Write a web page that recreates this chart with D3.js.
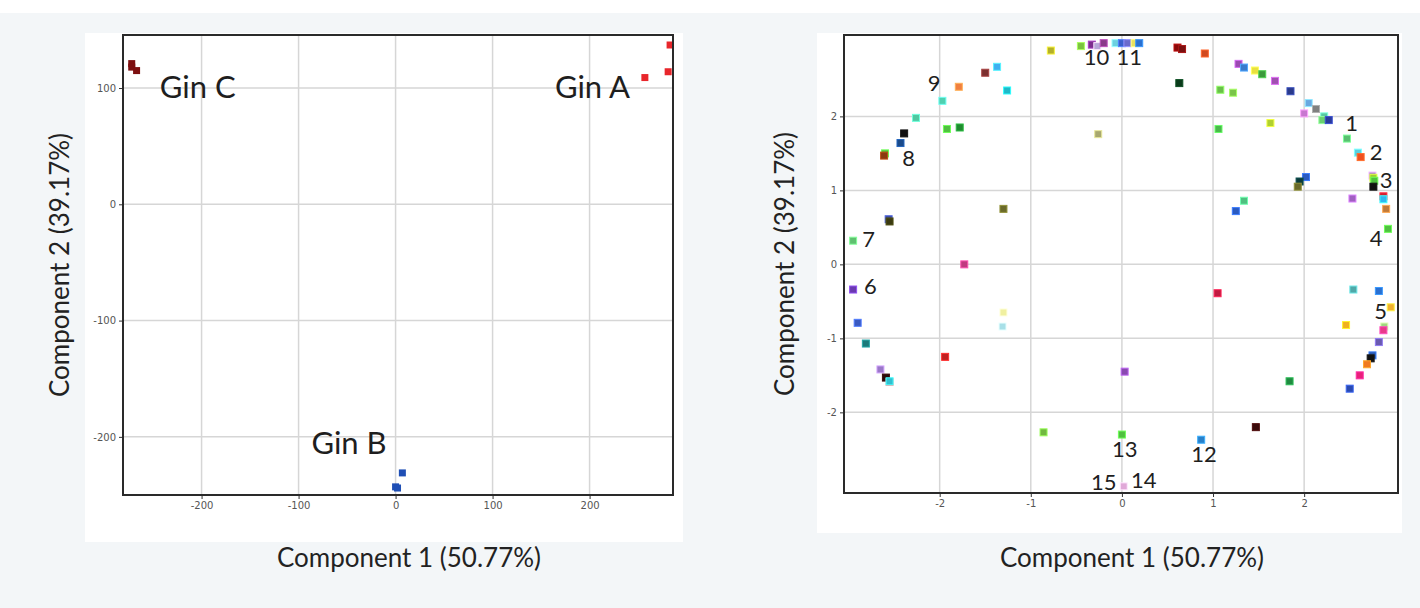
<!DOCTYPE html>
<html>
<head>
<meta charset="utf-8">
<script src="https://cdn.jsdelivr.net/npm/d3@7"></script>
<style>
  body { margin: 0; background: #f3f6f8; }
  svg { display: block; }
  .tick text { font-family: "DejaVu Sans", sans-serif; font-size: 10px; fill: #555; }
  .title { font-family: Lato, sans-serif; font-size: 26px; fill: #222; }
</style>
</head>
<body>
<svg id="chart"></svg>
<script>
const width = 1420;
const height = 608;

// left plot : scores
const ginGroups = ["Gin A", "Gin B", "Gin C"];
const ginX = [[283, 281, 257], [7, 0, 2], [-272, -272, -267]];
const ginY = [[137, 114, 109], [-231, -243, -244], [121, 118, 115]];
const ginColors = ["#e8262b", "#1f4fb5", "#7d0f10"];
const ginLabelX = [203, -48, -204];
const ginLabelY = [101, -205, 101];
const scoreTicksX = [-200, -100, 0, 100, 200];
const scoreTicksY = [-200, -100, 0, 100];

// right plot : loadings
const loadX = [-0.78, -0.45, -0.33, -0.27, -0.20, -0.07, 0.00, 0.06, 0.14, 0.19,
  0.61, 0.66, 0.91, 1.28, 1.34, 1.46, 1.54, 1.68, 1.85, 2.05, 2.13, 2.22, 2.20, 2.27, 2.00,
  0.63, 1.08, 1.22, 1.06, 1.63, -0.26, 2.47, 2.59, 2.62, 2.75, 2.76, 2.77, 2.76,
  2.02, 1.95, 1.93, 2.53, 2.87, 2.87, 2.90, 2.92, 1.34, 1.25,
  -1.37, -1.50, -1.26, -1.79, -1.97, -2.26, -1.92, -1.78, -2.39, -2.43, -2.60, -2.61,
  -2.56, -2.55, -2.95, -1.30, -1.73, -2.95, -2.90, -2.81, -2.65, -2.59, -2.55, -2.55,
  -1.30, -1.31, -1.94, -0.86, 0.00, 0.03, 0.02, 0.87, 1.47, 1.05, 1.84,
  2.54, 2.82, 2.95, 2.46, 2.88, 2.87, 2.82, 2.75, 2.73, 2.69, 2.61, 2.50];
const loadY = [2.89, 2.95, 2.97, 2.95, 2.99, 2.99, 2.99, 2.99, 2.99, 2.99,
  2.93, 2.91, 2.85, 2.71, 2.66, 2.62, 2.57, 2.48, 2.34, 2.18, 2.10, 2.00, 1.95, 1.95, 2.04,
  2.45, 2.36, 2.32, 1.83, 1.91, 1.76, 1.70, 1.51, 1.45, 1.20, 1.17, 1.13, 1.05,
  1.18, 1.12, 1.05, 0.89, 0.92, 0.88, 0.75, 0.48, 0.86, 0.72,
  2.67, 2.59, 2.35, 2.40, 2.21, 1.98, 1.83, 1.85, 1.77, 1.64, 1.50, 1.47,
  0.61, 0.58, 0.32, 0.75, 0.00, -0.34, -0.79, -1.07, -1.42, -1.53, -1.59, -1.58,
  -0.65, -0.84, -1.25, -2.27, -2.30, -1.45, -3.00, -2.37, -2.20, -0.39, -1.58,
  -0.34, -0.36, -0.58, -0.82, -0.84, -0.89, -1.05, -1.23, -1.27, -1.35, -1.50, -1.68];
const loadColors = ["#b3b02a", "#7cc242", "#7b2d8e", "#b7a6d8", "#8a3a8a", "#6cd0e0", "#3a5fcc", "#6a6acc", "#e8e060", "#2a70d0",
  "#8b0a0a", "#7a1010", "#d04a20", "#9a4ab0", "#3a7acc", "#e8e040", "#3a9a3a", "#a050b0", "#2a3a8a", "#6aa8e0", "#808080", "#5ac8a0", "#6ad070", "#2a3a9a", "#c878d0",
  "#0a3a1a", "#6abf4a", "#7ac44a", "#4ab84a", "#b0d030", "#a8a870", "#5ac070", "#5ad0e0", "#f05020", "#b088d0", "#a0d030", "#50c040", "#111111",
  "#2a5ac0", "#0a3a3a", "#6a6a2a", "#a060c0", "#d02030", "#30b8f0", "#c07a3a", "#50c040", "#50c080", "#2a5ac0",
  "#40b0f0", "#7a3030", "#20b8c8", "#f08040", "#50d0b0", "#50c8a0", "#50c040", "#208a30", "#111111", "#1a4a8a", "#50c040", "#8a3a10",
  "#3a4aa0", "#3a3a10", "#60c070", "#6a6a2a", "#c03a80", "#6a3ab0", "#3a5ac0", "#1a7a7a", "#9a78c8", "#2a0a0a", "#e07a7a", "#30c0d0",
  "#f0f0a0", "#a8e0e8", "#c02020", "#70b840", "#50c040", "#8a4ab0", "#e0a8d8", "#2a80c8", "#3a0a0a", "#c01a40", "#208a40",
  "#50a8a8", "#2a70d0", "#f0b030", "#f0b020", "#a0d880", "#e83a8a", "#6a5ab0", "#2a5ab0", "#111111", "#f07a20", "#e8207a", "#2a4ab0"];
const compoundIds = ["1", "2", "3", "4", "5", "6", "7", "8", "9", "10", "11", "12", "13", "14", "15"];
const compoundLabelX = [2.52, 2.79, 2.90, 2.79, 2.84, -2.76, -2.78, -2.34, -2.06, -0.28, 0.08, 0.90, 0.03, 0.24, -0.20];
const compoundLabelY = [1.91, 1.52, 1.13, 0.35, -0.64, -0.29, 0.34, 1.44, 2.45, 2.80, 2.80, -2.57, -2.50, -2.92, -2.94];
const loadTicks = [-2, -1, 0, 1, 2];

const svg = d3.select("#chart").attr("width", width).attr("height", height);

// fond
svg.append("rect").attr("width", width).attr("height", 13).attr("fill", "#fff");
svg.append("rect").attr("x", 85).attr("y", 33).attr("width", 598).attr("height", 509).attr("fill", "#fff");
svg.append("rect").attr("x", 817).attr("y", 33).attr("width", 585).attr("height", 500).attr("fill", "#fff");

function drawPanel(p) {
  const x = d3.scaleLinear().domain(p.xDomain).range([p.left, p.right]);
  const y = d3.scaleLinear().domain(p.yDomain).range([p.bottom, p.top]);
  const g = svg.append("g");

  // grille
  g.selectAll(".gx").data(p.xTicks).enter().append("line")
    .attr("x1", d => x(d)).attr("x2", d => x(d))
    .attr("y1", p.top).attr("y2", p.bottom)
    .attr("stroke", "#d6d6d6").attr("stroke-width", 1.5);
  g.selectAll(".gy").data(p.yTicks).enter().append("line")
    .attr("y1", d => y(d)).attr("y2", d => y(d))
    .attr("x1", p.left).attr("x2", p.right)
    .attr("stroke", "#d6d6d6").attr("stroke-width", 1.5);

  const fmt = d => String(d);
  const ax = g.append("g").attr("transform", `translate(0,${p.bottom})`)
    .call(d3.axisBottom(x).tickValues(p.xTicks).tickFormat(fmt).tickSize(4));
  const ay = g.append("g").attr("transform", `translate(${p.left},0)`)
    .call(d3.axisLeft(y).tickValues(p.yTicks).tickFormat(fmt).tickSize(4));
  [ax, ay].forEach(a => {
    a.select(".domain").remove();
    a.selectAll(".tick line").attr("stroke", "#333");
  });

  // points
  g.selectAll(".pt").data(p.points).enter().append("rect")
    .attr("x", d => x(d.x) - p.size / 2)
    .attr("y", d => y(d.y) - p.size / 2)
    .attr("width", p.size).attr("height", p.size)
    .attr("fill", d => d.color)
    .attr("stroke", d => p.outline ? d3.color(d.color).brighter(0.9) : "none")
    .attr("stroke-width", 1);

  // étiquettes
  g.selectAll(".lbl").data(p.labels).enter().append("text")
    .attr("x", d => x(d.x)).attr("y", d => y(d.y))
    .attr("dy", "0.35em")
    .attr("text-anchor", "middle")
    .attr("font-family", "Lato, sans-serif")
    .attr("font-size", p.labelSize)
    .attr("fill", "#1e1e1e")
    .text(d => d.text);

  // cadre
  g.append("rect")
    .attr("x", p.left).attr("y", p.top)
    .attr("width", p.right - p.left).attr("height", p.bottom - p.top)
    .attr("fill", "none").attr("stroke", "#2a2a2a").attr("stroke-width", 2);

  // titres des axes
  svg.append("text").attr("class", "title")
    .attr("x", (p.left + p.right) / 2 + 11).attr("y", 558)
    .attr("dy", "0.35em").attr("text-anchor", "middle")
    .text("Component 1 (50.77%)");
  svg.append("text").attr("class", "title")
    .attr("transform", `translate(${p.yTitleX},${(p.top + p.bottom) / 2}) rotate(-90)`)
    .attr("dy", "0.35em").attr("text-anchor", "middle")
    .text("Component 2 (39.17%)");
}

const scorePoints = [];
ginGroups.forEach((name, i) => {
  ginX[i].forEach((v, j) => scorePoints.push({ x: v, y: ginY[i][j], color: ginColors[i] }));
});

drawPanel({
  left: 123, right: 673, top: 35, bottom: 495,
  xDomain: [-281, 286], yDomain: [-250, 145.6],
  xTicks: scoreTicksX, yTicks: scoreTicksY,
  points: scorePoints, size: 7, outline: false,
  labels: ginGroups.map((t, i) => ({ text: t, x: ginLabelX[i], y: ginLabelY[i] })),
  labelSize: 31, yTitleX: 60
});

drawPanel({
  left: 844, right: 1398, top: 35, bottom: 493,
  xDomain: [-3.05, 3.03], yDomain: [-3.09, 3.10],
  xTicks: loadTicks, yTicks: loadTicks,
  points: loadX.map((v, i) => ({ x: v, y: loadY[i], color: loadColors[i] })),
  size: 7, outline: true,
  labels: compoundIds.map((t, i) => ({ text: t, x: compoundLabelX[i], y: compoundLabelY[i] })),
  labelSize: 22, yTitleX: 785
});
</script>
</body>
</html>
